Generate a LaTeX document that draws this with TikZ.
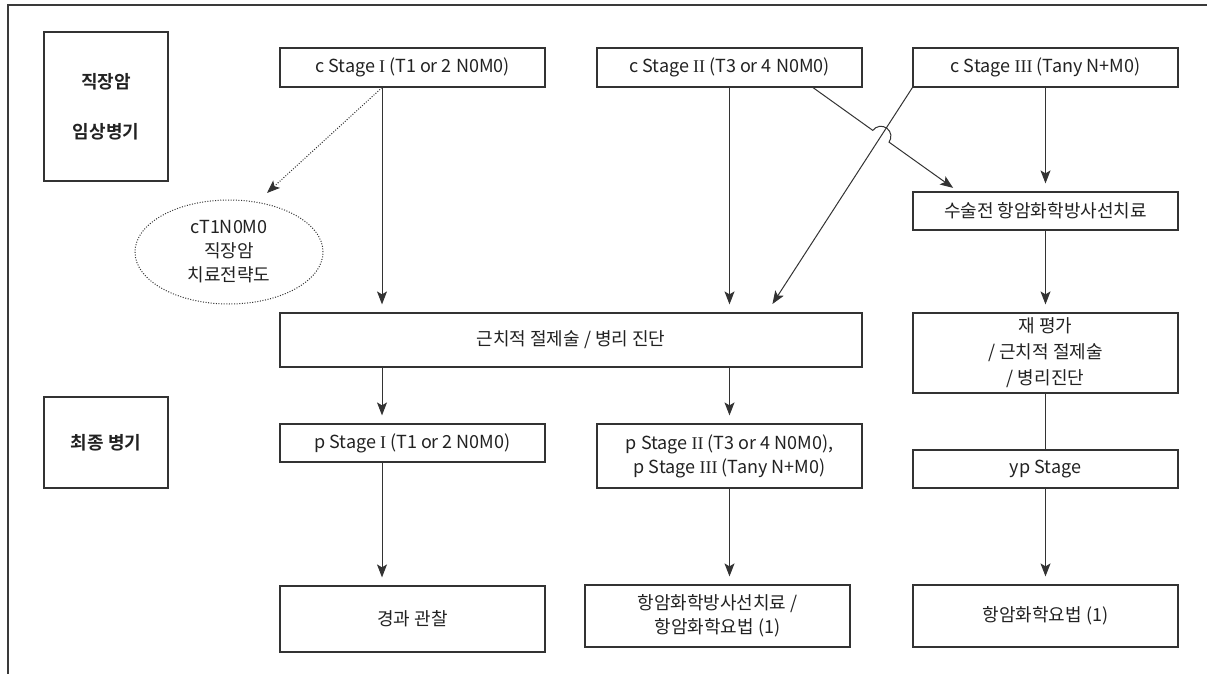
\documentclass[tikz,border=0pt]{standalone}
\usepackage{fontspec}
\setmainfont{Noto Sans CJK KR}[BoldFont={Noto Sans CJK KR Bold}]
\newfontfamily\romfont{Liberation Serif}
\usetikzlibrary{arrows.meta,intersections,calc,shapes.geometric}
\newcommand\RmI{{\romfont I}}
\newcommand\RmII{{\romfont II}}
\newcommand\RmIII{{\romfont III}}
\newcommand\fs{\fontsize{18}{24}\selectfont}
\definecolor{linec}{HTML}{333333}
\definecolor{txt}{HTML}{222222}
\definecolor{framec}{HTML}{3A3A3A}
\begin{document}
\begin{tikzpicture}[x=1pt,y=-1pt,
  box/.style={draw=linec, line width=1.2pt, rectangle, align=center, inner sep=0pt, text=txt, font=\fs},
  lab/.style={box, font=\fs\bfseries, minimum width=124pt},
  arr/.style={-{Stealth[length=13pt,width=10pt,inset=3pt]}, line width=1pt, draw=linec},
  gap/.style={shorten >=8pt},
  plain/.style={line width=1pt, draw=linec},
  dots/.style={dash pattern=on 1pt off 1.6pt}
]
\useasboundingbox (0,0) rectangle (1207,674);
\fill[white] (0,0) rectangle (1207,674);
\draw[line width=2.6pt, draw=framec] (8,674) -- (8,5) -- (1207,5);

% left labels
\node[lab, minimum height=149pt] (lab1) at (106,106.5) {직장암\\[26pt]임상병기};
\node[lab, minimum height=91pt] (lab2) at (106,442.5) {최종 병기};

% top row
\node[box, minimum width=265pt, minimum height=39pt] (c1) at (412.5,67.5) {c Stage \RmI\ (T1 or 2 N0M0)};
\node[box, minimum width=265pt, minimum height=39pt] (c2) at (729.5,67.5) {c Stage \RmII\ (T3 or 4 N0M0)};
\node[box, minimum width=265pt, minimum height=39pt] (c3) at (1045.5,67.5) {c Stage \RmIII\ (Tany N+M0)};

\node[box, minimum width=265pt, minimum height=38pt] (pre) at (1045.5,211) {수술전 항암화학방사선치료};

\node[ellipse, draw=linec, line width=1pt, dots, minimum width=188pt, minimum height=104pt, align=center, inner sep=0pt, text=txt, font=\fs] (ell) at (229,252) {cT1N0M0\\직장암\\치료전략도};

\node[box, minimum width=582pt, minimum height=54pt] (rad) at (571,340) {근치적 절제술 / 병리 진단};
\node[box, minimum width=265pt, minimum height=80pt] (re) at (1045.5,353) {재 평가\\[2pt]/ 근치적 절제술\\[2pt]/ 병리진단};

\node[box, minimum width=265pt, minimum height=38pt] (p1) at (412.5,443) {p Stage \RmI\ (T1 or 2 N0M0)};
\node[box, minimum width=265pt, minimum height=64pt] (p2) at (729.5,456) {p Stage \RmII\ (T3 or 4 N0M0),\\p Stage \RmIII\ (Tany N+M0)};
\node[box, minimum width=265pt, minimum height=38pt] (yp) at (1045.5,469) {yp Stage};

\node[box, minimum width=265pt, minimum height=66pt] (b1) at (412.5,619) {경과 관찰};
\node[box, minimum width=265pt, minimum height=62pt] (b2) at (717.5,616) {항암화학방사선치료 /\\항암화학요법 (1)};
\node[box, minimum width=265pt, minimum height=62pt] (b3) at (1045.5,616) {항암화학요법 (1)};

% helper coordinates
\coordinate (k1) at (382,0);
\coordinate (k2) at (767,0);
\coordinate (k3) at (958,0);
\coordinate (dt) at (267,193);
\coordinate (s2) at ([xshift=83.5pt]c2.south);

% column 1
\draw[arr, dots] (c1.south -| k1) -- (dt);
\draw[arr, gap] (c1.south -| k1) -- (rad.north -| k1);
\draw[arr, gap] (rad.south -| k1) -- (p1.north -| k1);
\draw[arr, gap] (p1.south -| k1) -- (b1.north -| k1);

% column 2
\draw[arr, gap] (c2.south) -- (rad.north -| c2.south);
\draw[arr, gap] (rad.south -| c2.south) -- (p2.north);
\draw[arr, gap] (p2.south) -- (b2.north -| p2.south);

% column 3
\draw[arr, gap] (c3.south) -- (pre.north);
\draw[arr, gap] (pre.south) -- (re.north);
\draw[plain] (re.south) -- (yp.north);
\draw[arr, gap] (yp.south) -- (b3.north);

% crossing diagonals
\path[name path=la] (s2) -- (pre.north -| k3);
\path[name path=lb] (c3.south west) -- (rad.north -| k2);
\path[name intersections={of=la and lb, by=X}];
\draw[arr, shorten >=10pt] (c3.south west) -- (rad.north -| k2);
\draw[arr, shorten >=6pt] (s2) -- ($(X)!10pt!(s2)$) arc[start angle=144.1, end angle=-35.9, radius=10pt] -- (pre.north -| k3);
\end{tikzpicture}
\end{document}
